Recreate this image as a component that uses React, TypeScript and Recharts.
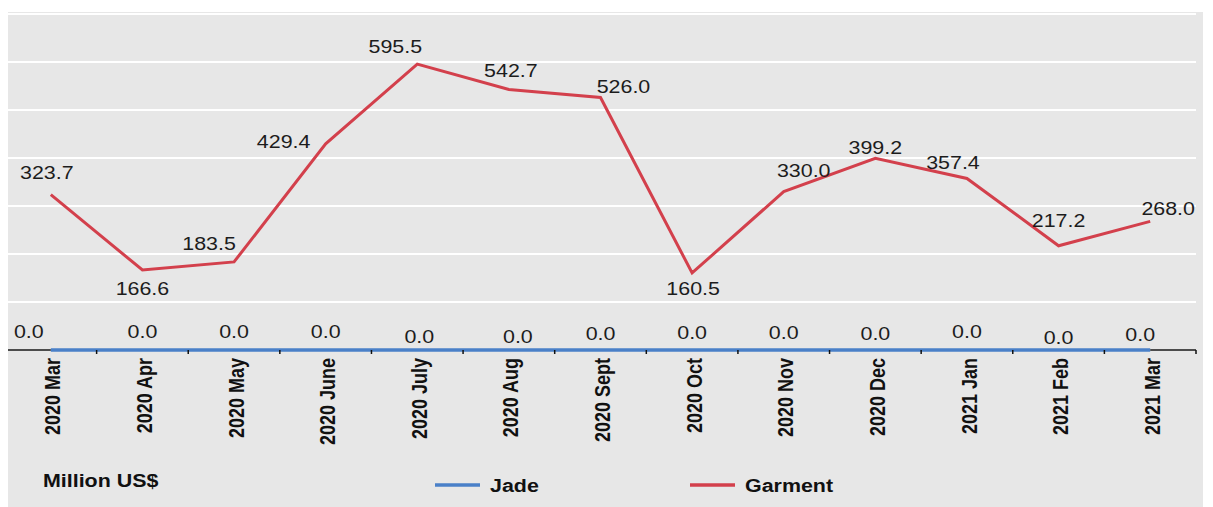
import { LineChart, Line, XAxis, YAxis, CartesianGrid, LabelList } from "recharts";

const months = [
  "2020 Mar", "2020 Apr", "2020 May", "2020 June", "2020 July", "2020 Aug", "2020 Sept",
  "2020 Oct", "2020 Nov", "2020 Dec", "2021 Jan", "2021 Feb", "2021 Mar",
];
const jade = [0, 0, 0, 0, 0, 0, 0, 0, 0, 0, 0, 0, 0];
const garment = [323.7, 166.6, 183.5, 429.4, 595.5, 542.7, 526.0, 160.5, 330.0, 399.2, 357.4, 217.2, 268.0];
const yTicks = [0, 100, 200, 300, 400, 500, 600];

// label nudges (dx, dy) so the numbers sit where the original puts them
const garmentNudge: [number, number][] = [
  [-4, -22], [0, 19], [-25, -18], [-42, -2], [-22, -18], [2, -19], [23, -11],
  [1, 16], [20, -21], [0, -11], [-14, -16], [0, -25], [18, -13],
];
const jadeNudge: [number, number][] = [
  [-22, -18], [0, -18], [0, -18], [0, -18], [2, -13], [9, -13], [0, -16],
  [0, -17], [0, -17], [0, -16], [0, -18], [0, -12], [-10, -15],
];

const W = 1213;
const H = 507;
const M = { top: 14, right: 17, bottom: 7, left: 5 };
const BAND = (W - M.left - M.right) / months.length;
const FONT = "'Liberation Sans', Arial, sans-serif";
const SX = 1.19; // the source image is stretched sideways
const JADE = "#4a80c8";
const GARMENT = "#d3404c";

const data = months.map((m, i) => ({ month: m, jade: jade[i], garment: garment[i] }));

const makeLabel = (nudge: [number, number][]) => (p: any) => {
  const { x, y, value, index } = p;
  const [dx, dy] = nudge[index] ?? [0, -16];
  return (
    <text
      transform={`translate(${x + dx},${y + dy}) scale(${SX},1)`}
      textAnchor="middle"
      dominantBaseline="central"
      fontSize={18}
      fontFamily={FONT}
      fill="#1c1c1c"
    >
      {Number(value).toFixed(1)}
    </text>
  );
};

// axis ticks sit on the band edges; the black axis line only shows past the
// ends of the Jade line, which lies on top of it elsewhere
const MonthTick = (p: any) => {
  const { x, y, payload, index } = p;
  const half = BAND / 2;
  const top = y - 7;
  const last = index === months.length - 1;
  return (
    <g>
      <line x1={x - half} y1={top} x2={x - half} y2={top + 4} stroke="#111" strokeWidth={1.5} />
      {index === 0 && <line x1={x - half} y1={top} x2={x} y2={top} stroke="#111" strokeWidth={1.5} />}
      {last && <line x1={x} y1={top} x2={x + half} y2={top} stroke="#111" strokeWidth={1.5} />}
      {last && <line x1={x + half} y1={top} x2={x + half} y2={top + 4} stroke="#111" strokeWidth={1.5} />}
      <text
        transform={`translate(${x + 2},${y + 1}) scale(${SX},1) rotate(-90)`}
        textAnchor="end"
        dominantBaseline="central"
        fontSize={18}
        fontWeight="bold"
        fontFamily={FONT}
        fill="#111"
      >
        {payload.value}
      </text>
    </g>
  );
};

export default function App() {
  return (
    <div style={{ position: "relative", width: W, height: H, margin: "-8px 0 0 -8px", background: "#fff", overflow: "hidden" }}>
      <div style={{ position: "absolute", left: 5, top: 12, width: 1198, height: 495, background: "#e7e7e7" }} />
      <div style={{ position: "absolute", left: 0, top: 0 }}>
        <LineChart width={W} height={H} data={data} margin={M}>
          <CartesianGrid vertical={false} stroke="#ffffff" strokeWidth={2} />
          <XAxis
            dataKey="month"
            scale="band"
            height={150}
            interval={0}
            tickLine={false}
            tickSize={5}
            tickMargin={2}
            axisLine={false}
            tick={<MonthTick />}
          />
          <YAxis hide domain={[0, 700]} ticks={yTicks} />
          <Line dataKey="jade" stroke={JADE} strokeWidth={3.5} dot={false} isAnimationActive={false}>
            <LabelList dataKey="jade" content={makeLabel(jadeNudge)} />
          </Line>
          <Line dataKey="garment" stroke={GARMENT} strokeWidth={3} dot={false} isAnimationActive={false}>
            <LabelList dataKey="garment" content={makeLabel(garmentNudge)} />
          </Line>
        </LineChart>
      </div>
      <svg width={W} height={H} style={{ position: "absolute", left: 0, top: 0, pointerEvents: "none" }}>
        <text transform={`translate(43,487) scale(${SX},1)`} fontSize={18} fontWeight="bold" fontFamily={FONT} fill="#111">
          Million US$
        </text>
        <line x1={435} y1={485} x2={480} y2={485} stroke={JADE} strokeWidth={3.5} />
        <text transform={`translate(490,492) scale(${SX},1)`} fontSize={18} fontWeight="bold" fontFamily={FONT} fill="#111">
          Jade
        </text>
        <line x1={690} y1={485} x2={735} y2={485} stroke={GARMENT} strokeWidth={3.5} />
        <text transform={`translate(745,492) scale(${SX},1)`} fontSize={18} fontWeight="bold" fontFamily={FONT} fill="#111">
          Garment
        </text>
      </svg>
    </div>
  );
}
